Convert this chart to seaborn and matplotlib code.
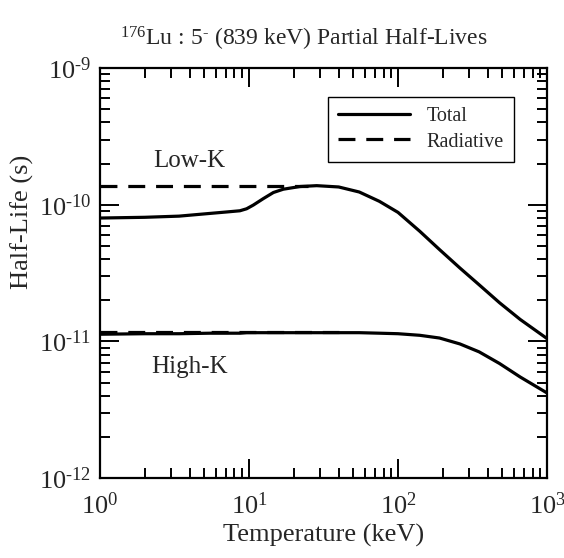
import numpy as np
import pandas as pd
import matplotlib
matplotlib.use('Agg')
import matplotlib.pyplot as plt
from matplotlib.lines import Line2D
from matplotlib.ticker import LogLocator, FuncFormatter, NullFormatter
import seaborn as sns

# temperature grid (keV) and half-lives (s)
temp_total = [1, 2, 3.4, 5.5, 7, 8.7, 9.65, 10.7, 12.5, 14.6, 17, 22, 28.5, 40, 55, 75, 100, 140, 190,
              260, 350, 480, 660, 1000]
lowk_total = [8.0e-11, 8.1e-11, 8.26e-11, 8.65e-11, 8.85e-11, 9.04e-11, 9.35e-11, 9.95e-11, 1.11e-10,
              1.23e-10, 1.30e-10, 1.36e-10, 1.38e-10, 1.35e-10, 1.24e-10, 1.06e-10, 8.8e-11, 6.4e-11,
              4.7e-11, 3.45e-11, 2.6e-11, 1.92e-11, 1.45e-11, 1.05e-11]
highk_total = [1.13e-11, 1.14e-11, 1.14e-11, 1.15e-11, 1.15e-11, 1.15e-11, 1.16e-11, 1.16e-11, 1.16e-11,
               1.16e-11, 1.16e-11, 1.16e-11, 1.16e-11, 1.16e-11, 1.16e-11, 1.15e-11, 1.14e-11, 1.11e-11,
               1.06e-11, 9.6e-12, 8.4e-12, 6.9e-12, 5.5e-12, 4.2e-12]

temp_rad = [1, 25]
lowk_rad = [1.38e-10, 1.38e-10]
temp_rad_h = [1, 40]
highk_rad = [1.17e-11, 1.17e-11]

sns.set_style('ticks')
plt.rcParams['font.family'] = ['Liberation Serif', 'DejaVu Serif']
plt.rcParams['mathtext.fontset'] = 'custom'
plt.rcParams['mathtext.rm'] = 'Liberation Serif'
plt.rcParams['mathtext.it'] = 'Liberation Serif:italic'
plt.rcParams['mathtext.bf'] = 'Liberation Serif:bold'
plt.rcParams['axes.unicode_minus'] = False

fig = plt.figure(figsize=(5.64, 5.58), dpi=100)
ax = fig.add_axes([0.177, 0.143, 0.793, 0.735])

lw = 2.3
dash = (0, (5.3, 3.4))
sns.lineplot(x=temp_total, y=lowk_total, ax=ax, color='black', linewidth=lw)
sns.lineplot(x=temp_total, y=highk_total, ax=ax, color='black', linewidth=lw)
sns.lineplot(x=temp_rad, y=lowk_rad, ax=ax, color='black', linewidth=lw, linestyle=dash)
sns.lineplot(x=temp_rad_h, y=highk_rad, ax=ax, color='black', linewidth=lw, linestyle=dash)

ax.set_xscale('log')
ax.set_yscale('log')
ax.set_xlim(1, 1000)
ax.set_ylim(1e-12, 1e-9)


def pow10(v, pos):
    n = int(round(np.log10(v)))
    if n < 0:
        return r'$\mathdefault{10^{\text{-}%d}}$' % (-n)
    return r'$\mathdefault{10^{%d}}$' % n


ax.xaxis.set_major_locator(LogLocator(base=10, numticks=10))
ax.yaxis.set_major_locator(LogLocator(base=10, numticks=10))
ax.xaxis.set_minor_locator(LogLocator(base=10, subs=np.arange(2, 10), numticks=20))
ax.yaxis.set_minor_locator(LogLocator(base=10, subs=np.arange(2, 10), numticks=20))
ax.xaxis.set_major_formatter(FuncFormatter(pow10))
ax.yaxis.set_major_formatter(FuncFormatter(pow10))
ax.xaxis.set_minor_formatter(NullFormatter())
ax.yaxis.set_minor_formatter(NullFormatter())

ax.tick_params(which='both', direction='in', top=True, right=True, width=1.4, color='black')
ax.tick_params(which='major', length=14, labelsize=19)
ax.tick_params(which='minor', length=7)
ax.tick_params(axis='x', which='major', pad=10)
ax.tick_params(axis='y', which='major', pad=6)
for s in ax.spines.values():
    s.set_linewidth(1.6)
    s.set_color('black')

ax.set_xlabel('Temperature (keV)', fontsize=19, labelpad=4)
ax.set_ylabel('Half-Life (s)', fontsize=19)
ax.yaxis.set_label_coords(-0.148, 0.624)
ax.set_title(r'$^{176}$Lu : 5$^{\text{-}}$ (839 keV) Partial Half-Lives', fontsize=17, pad=16, x=0.455)

ax.text(4.0, 2.1e-10, 'Low-K', fontsize=18, ha='center', va='center')
ax.text(4.0, 6.5e-12, 'High-K', fontsize=18, ha='center', va='center')

handles = [Line2D([], [], color='black', linewidth=lw),
           Line2D([], [], color='black', linewidth=lw, linestyle=dash)]
leg = ax.legend(handles, ['Total', 'Radiative'], loc='upper right', bbox_to_anchor=(0.925, 0.929),
                borderaxespad=0, fontsize=14.5, handlelength=3.6, fancybox=False, framealpha=1,
                edgecolor='black', borderpad=0.5, labelspacing=0.3)
leg.get_frame().set_linewidth(1.0)

fig.savefig('out.png', dpi=100)
